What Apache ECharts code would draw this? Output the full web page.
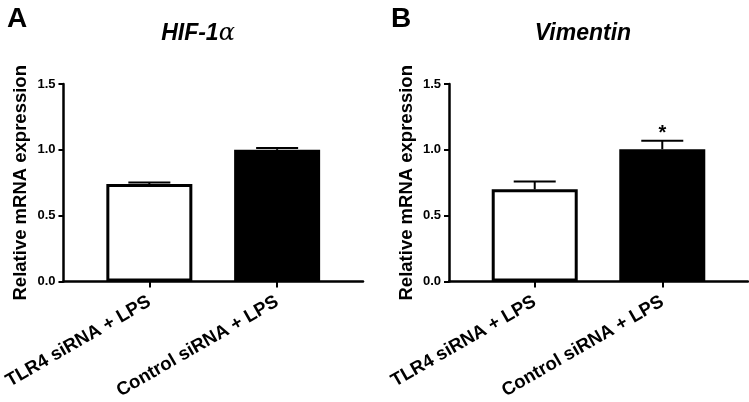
<!DOCTYPE html>
<html>
<head>
<meta charset="utf-8">
<script src="https://cdn.jsdelivr.net/npm/echarts@6/dist/echarts.min.js"></script>
<style>
  html, body { margin: 0; padding: 0; background: #fff; }
  #chart { width: 749px; height: 402px; }
</style>
</head>
<body>
<div id="chart"></div>
<script>
// 两组：TLR4 siRNA + LPS / Control siRNA + LPS
var categories = ['TLR4 siRNA + LPS', 'Control siRNA + LPS'];
var hifValues = [0.74, 1.00];
var hifErrors = [0.012, 0.014];
var hifMarks = ['', ''];
var vimValues = [0.70, 1.005];
var vimErrors = [0.06, 0.065];
var vimMarks = ['', '*'];
var yTicks = [0, 0.5, 1.0, 1.5];

var FONT = 'Arial, "Liberation Sans", sans-serif';
var barColors = ['#ffffff', '#000000'];

function barData(values) {
	var out = [];
	for (var i = 0; i < values.length; i++) {
		out.push({
			value: [i, values[i]],
			itemStyle: {
				color: barColors[i],
				borderColor: '#000',
				borderWidth: 3
			}
		});
	}
	return out;
}

function errData(values, errors, marks) {
	var out = [];
	for (var i = 0; i < values.length; i++) {
		out.push([i, values[i], errors[i], marks[i]]);
	}
	return out;
}

function renderErr(params, api) {
	var x = api.value(0), y = api.value(1), e = api.value(2);
	var mark = api.value(3);
	var base = api.coord([x, y]);
	var top = api.coord([x, y + e]);
	var half = 21;
	var style = { stroke: '#000', lineWidth: 2 };
	var children = [
		{ type: 'line', shape: { x1: base[0], y1: base[1], x2: top[0], y2: top[1] }, style: style },
		{ type: 'line', shape: { x1: top[0] - half, y1: top[1], x2: top[0] + half, y2: top[1] }, style: style }
	];
	if (mark) {
		children.push({
			type: 'text',
			style: {
				text: mark, x: top[0], y: top[1] + 3,
				align: 'center', verticalAlign: 'bottom',
				font: 'bold 20px ' + FONT, fill: '#000'
			}
		});
	}
	return { type: 'group', children: children };
}

function xAxisOpt(grid) {
	return {
		type: 'value',
		gridIndex: grid,
		min: -0.672,
		max: 1.672,
		splitLine: { show: false },
		axisLine: { onZero: false, lineStyle: { color: '#000', width: 2.5 } },
		axisTick: { show: true, customValues: [0, 1], length: 6, lineStyle: { color: '#000', width: 2 } },
		axisLabel: {
			customValues: [0, 1],
			rotate: 30,
			margin: 19,
			color: '#000',
			fontFamily: FONT,
			fontWeight: 'bold',
			fontSize: 18.5,
			formatter: function (v) { return categories[Math.round(v)]; }
		}
	};
}

function yAxisOpt(grid) {
	return {
		type: 'value',
		gridIndex: grid,
		min: 0,
		max: 1.5,
		interval: 0.5,
		name: 'Relative mRNA expression',
		nameLocation: 'middle',
		nameGap: 33,
		nameTextStyle: { color: '#000', fontFamily: FONT, fontWeight: 'bold', fontSize: 18.5 },
		splitLine: { show: false },
		axisLine: { show: true, onZero: false, lineStyle: { color: '#000', width: 2.5 } },
		axisTick: { show: true, length: 5, lineStyle: { color: '#000', width: 2 } },
		axisLabel: {
			margin: 8,
			color: '#000',
			fontFamily: FONT,
			fontWeight: 'bold',
			fontSize: 13,
			customValues: yTicks,
			formatter: function (v) { return v.toFixed(1); }
		}
	};
}

var chart = echarts.init(document.getElementById('chart'));
var option = {
	backgroundColor: '#fff',
	animation: false,
	title: [
		{ text: 'A', left: 2, top: 0, textStyle: { fontFamily: FONT, fontWeight: 'bold', fontSize: 28, color: '#000' } },
		{ text: 'B', left: 386, top: 0, textStyle: { fontFamily: FONT, fontWeight: 'bold', fontSize: 28, color: '#000' } },
		{
			text: 'HIF-1{a|α}', left: 193, top: 17, textAlign: 'center',
			textStyle: {
				fontFamily: FONT, fontWeight: 'bold', fontStyle: 'italic', fontSize: 23, color: '#000',
				rich: { a: { fontFamily: '"DejaVu Serif", serif', fontStyle: 'italic', fontWeight: 'normal', fontSize: 24, color: '#000' } }
			}
		},
		{
			text: 'Vimentin', left: 578, top: 17, textAlign: 'center',
			textStyle: { fontFamily: FONT, fontWeight: 'bold', fontStyle: 'italic', fontSize: 23, color: '#000' }
		}
	],
	grid: [
		{ left: 63, right: 386, top: 84, bottom: 118.5 },
		{ left: 449, right: 1, top: 84, bottom: 118.5 }
	],
	xAxis: [xAxisOpt(0), xAxisOpt(1)],
	yAxis: [yAxisOpt(0), yAxisOpt(1)],
	series: [
		{ type: 'bar', xAxisIndex: 0, yAxisIndex: 0, barWidth: 86, data: barData(hifValues) },
		{ type: 'custom', xAxisIndex: 0, yAxisIndex: 0, renderItem: renderErr, data: errData(hifValues, hifErrors, hifMarks), z: 3 },
		{ type: 'bar', xAxisIndex: 1, yAxisIndex: 1, barWidth: 86, data: barData(vimValues) },
		{ type: 'custom', xAxisIndex: 1, yAxisIndex: 1, renderItem: renderErr, data: errData(vimValues, vimErrors, vimMarks), z: 3 }
	]
};
chart.setOption(option);
</script>
</body>
</html>
